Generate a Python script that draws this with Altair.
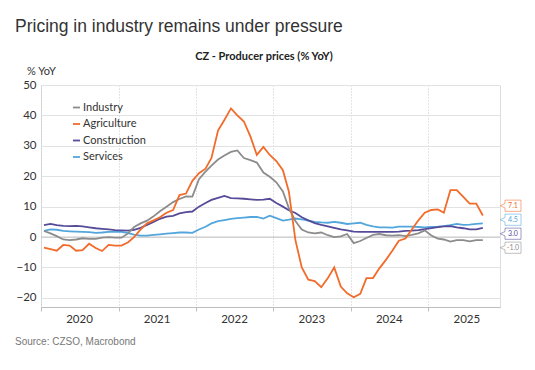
import altair as alt
import pandas as pd

# ---- data (monthly, Jan 2020 - Sep 2025, % YoY) ----
series_names = ["Industry", "Agriculture", "Construction", "Services"]
series_colors = ["#8c8c8c", "#f26b2a", "#564b98", "#52a6dc"]

industry = [2.0, 1.2, 0.3, -0.8, -1.0, -0.8, -0.4, -0.6, -0.6, -0.2, 0.0, -0.2,
            -0.2, 1.2, 3.3, 4.5, 5.4, 6.8, 8.5, 10.0, 11.5, 12.5, 13.4, 13.3,
            19.0, 21.5, 23.5, 25.5, 26.8, 28.0, 28.5, 26.0, 25.3, 24.5, 21.2, 19.8,
            18.0, 15.0, 9.5, 5.3, 2.5, 1.5, 1.2, 1.5, 0.6, 0.0, 0.2, 1.0,
            -2.0, -1.3, -0.3, 0.7, 1.0, 0.6, 0.5, 0.6, 0.3, 0.7, 1.2, 2.2,
            0.5, -0.5, -0.8, -1.5, -1.0, -1.0, -1.4, -1.0, -1.0]
agriculture = [-3.5, -4.0, -4.5, -2.6, -2.8, -4.5, -4.3, -2.2, -3.6, -4.6, -2.6, -2.8,
               -2.8, -1.7, 0.0, 2.5, 4.5, 5.5, 6.5, 8.0, 8.9, 13.8, 14.3, 18.5,
               21.0, 22.5, 26.0, 35.0, 38.5, 42.3, 40.0, 38.0, 33.0, 27.0, 29.6, 27.0,
               25.0, 22.0, 15.0, -1.0, -10.0, -14.0, -14.5, -16.5, -13.5, -10.0, -16.3, -18.5,
               -19.8, -18.7, -13.5, -13.5, -10.3, -7.5, -4.5, -1.2, -0.5, 2.5, 5.5, 8.0,
               8.9, 9.1, 8.0, 15.4, 15.4, 13.2, 11.0, 11.0, 7.1]
construction = [3.9, 4.3, 3.9, 3.7, 3.6, 3.7, 3.5, 3.2, 2.9, 2.7, 2.5, 2.3,
                2.2, 2.1, 2.4, 3.0, 4.0, 5.0, 6.0, 6.7, 7.0, 7.8, 8.2, 8.4,
                10.0, 11.2, 12.2, 12.9, 13.5, 12.8, 12.7, 12.6, 12.4, 12.2, 12.3, 12.6,
                11.2, 10.0, 8.8, 7.9, 6.5, 5.5, 4.6, 4.0, 3.5, 3.0, 2.5, 2.2,
                1.8, 1.7, 1.7, 1.7, 1.7, 1.7, 1.7, 1.8, 2.0, 2.1, 2.3, 2.6,
                2.9, 3.3, 3.5, 3.6, 3.2, 2.9, 2.5, 2.5, 3.0]
services = [2.0, 2.5, 2.4, 2.0, 1.9, 1.8, 1.7, 1.6, 1.4, 1.5, 1.7, 1.7,
            1.7, 1.3, 0.8, 0.5, 0.5, 0.7, 0.9, 1.1, 1.3, 1.5, 1.5, 1.4,
            2.5, 3.4, 4.5, 5.2, 5.6, 6.0, 6.2, 6.4, 6.6, 6.6, 6.1, 7.0,
            6.2, 5.4, 5.7, 6.1, 5.8, 5.4, 5.0, 4.8, 4.7, 5.0, 4.7, 4.3,
            4.5, 4.7, 4.0, 3.5, 3.2, 3.2, 3.1, 3.4, 3.4, 3.4, 3.3, 3.2,
            3.3, 3.4, 3.6, 3.9, 4.3, 4.0, 4.1, 4.3, 4.5]

y_ticks = [-20, -10, 0, 10, 20, 30, 40, 50]
years = [2020, 2021, 2022, 2023, 2024, 2025]

dates = pd.date_range("2020-01-01", periods=len(industry), freq="MS") + pd.Timedelta(days=14)
values_by_name = {"Industry": industry, "Agriculture": agriculture,
                  "Construction": construction, "Services": services}

draw_order = ["Services", "Construction", "Industry", "Agriculture"]
rows = []
for name in draw_order:
    for d, v in zip(dates, values_by_name[name]):
        rows.append({"date": d, "series": name, "value": v})
df = pd.DataFrame(rows)

# ---- end-of-line tags, dodged so they don't overlap ----
gap = 4.6
last = sorted([(n, values_by_name[n][-1]) for n in series_names], key=lambda t: -t[1])
clusters = [[t] for t in last]

def positions(cl):
    c = sum(v for _, v in cl) / len(cl)
    n = len(cl)
    return [c + gap * ((n - 1) / 2 - i) for i in range(n)]

merged = True
while merged:
    merged = False
    for i in range(len(clusters) - 1):
        if positions(clusters[i])[-1] - positions(clusters[i + 1])[0] < gap:
            clusters[i] = clusters[i] + clusters[i + 1]
            del clusters[i + 1]
            merged = True
            break
tag_rows = []
for cl in clusters:
    for (n, v), p in zip(cl, positions(cl)):
        tag_rows.append({"series": n, "value": v, "pos": p, "label": f"{v:.1f}"})
tags = pd.DataFrame(tag_rows)

W, H = 459, 222
color_scale = alt.Scale(domain=series_names, range=series_colors)
x_scale = alt.Scale(domain=[alt.DateTime(year=2020, month=1, date=1),
                            alt.DateTime(year=2025, month=12, date=5)])
y_scale = alt.Scale(domain=[-23, 50], nice=False, zero=False)

y_axis = alt.Axis(values=y_ticks, domain=False, ticks=False, labelOverlap=False,
                  gridColor="#e2e2e2", labelPadding=5, labelFontSize=11.5,
                  labelFont="Lato", labelColor="#333333")
x_axis = alt.Axis(values=[alt.DateTime(year=y, month=1, date=1) for y in years],
                  format="%Y", labelOffset=38, labelFlush=False, labelOverlap=False,
                  grid=True, gridDash=[1, 2], gridColor="#c8c8c8",
                  domainColor="#bdbdbd", tickColor="#bdbdbd", tickSize=4,
                  labelPadding=2, labelFontSize=11.5, labelFont="Lato",
                  labelColor="#333333")

zero = alt.Chart(pd.DataFrame({"z": [0]})).mark_rule(color="#c4c4c4", strokeWidth=1).encode(
    y=alt.Y("z:Q", scale=y_scale, title=None, axis=y_axis)
)

lines = alt.Chart(df).mark_line(strokeWidth=1.8, clip=True).encode(
    x=alt.X("date:T", scale=x_scale, title=None, axis=x_axis),
    y=alt.Y("value:Q", scale=y_scale, title=None, axis=y_axis),
    color=alt.Color("series:N", scale=color_scale, sort=series_names,
                    legend=alt.Legend(orient="none", legendX=30, legendY=17, title=None,
                                      symbolType="stroke", symbolSize=49,
                                      symbolStrokeWidth=1.8, labelFontSize=11,
                                      labelFont="Lato", labelColor="#333333",
                                      rowPadding=4.5, labelOffset=1, padding=0)),
    detail="series:N",
)

tag_shape = "M-1,-0.7 L1,-0.7 L1,0.7 L-1,0.7 L-1,0.27 L-1.6,0 L-1,-0.27 Z"
tag_box = alt.Chart(tags).mark_point(shape=tag_shape, size=256, filled=False,
                                     fill="white", fillOpacity=1, strokeWidth=1,
                                     strokeOpacity=0.55, opacity=1).encode(
    x=alt.value(W + 13),
    y=alt.Y("pos:Q", scale=y_scale, title=None, axis=y_axis),
    color=alt.Color("series:N", scale=color_scale, legend=None),
)
tag_text = alt.Chart(tags).mark_text(fontSize=7, font="Lato", align="center",
                                     baseline="middle").encode(
    x=alt.value(W + 13),
    y=alt.Y("pos:Q", scale=y_scale, title=None, axis=y_axis),
    text="label:N",
    color=alt.Color("series:N", scale=color_scale, legend=None),
)

one = pd.DataFrame({"a": [0]})

def label(text, x, y, **kw):
    return alt.Chart(one).mark_text(text=text, **kw).encode(x=alt.value(x), y=alt.value(y))

title = label("Pricing in industry remains under pressure", -26, -53,
              fontSize=17.5, font="Liberation Sans", color="#333333",
              align="left", baseline="alphabetic")
subtitle = label("CZ - Producer prices (% YoY)", 223, -25, fontSize=11, font="Lato",
                 fontWeight="bold", color="#222222", align="center", baseline="alphabetic")
yunit = label("% YoY", -14, -10, fontSize=11, font="Lato", color="#333333",
              align="left", baseline="alphabetic")
source = label("Source: CZSO, Macrobond", -26, 260, fontSize=10,
               font="Liberation Sans", color="#777777", align="left", baseline="alphabetic")

chart = alt.layer(zero, lines, tag_box, tag_text, title, subtitle, yunit, source).properties(
    width=W, height=H,
    autosize=alt.AutoSizeParams(type="none"),
    padding={"left": 33, "top": 77, "right": 27, "bottom": 55},
).configure_view(stroke=None).configure(background="white")

chart.save("out.html", embed_options={"renderer": "svg", "actions": False})
